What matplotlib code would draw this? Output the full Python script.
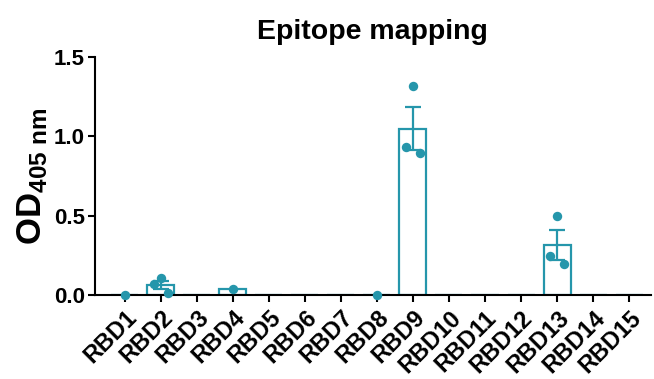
import numpy as np
import matplotlib
matplotlib.use("Agg")
import matplotlib.pyplot as plt

plt.rcParams['font.family'] = ['Liberation Sans', 'DejaVu Sans']
plt.rcParams['mathtext.fontset'] = 'custom'
plt.rcParams['mathtext.rm'] = 'Liberation Sans:bold'
plt.rcParams['mathtext.bf'] = 'Liberation Sans:bold'

# data: three replicates per RBD peptide (NaN = not shown)
categories = ['RBD1', 'RBD2', 'RBD3', 'RBD4', 'RBD5', 'RBD6', 'RBD7', 'RBD8',
              'RBD9', 'RBD10', 'RBD11', 'RBD12', 'RBD13', 'RBD14', 'RBD15']
rep1 = [np.nan, 0.07, np.nan, np.nan, np.nan, np.nan, np.nan, np.nan,
        0.933, np.nan, np.nan, np.nan, 0.246, np.nan, np.nan]
rep2 = [0.0, 0.107, np.nan, 0.035, np.nan, np.nan, np.nan, 0.0,
        1.317, np.nan, np.nan, np.nan, 0.498, np.nan, np.nan]
rep3 = [np.nan, 0.01, np.nan, np.nan, np.nan, np.nan, np.nan, np.nan,
        0.895, np.nan, np.nan, np.nan, 0.195, np.nan, np.nan]

color = '#2596ab'

reps = np.array([rep1, rep2, rep3])
n = np.sum(~np.isnan(reps), axis=0)
means = np.array([np.nanmean(reps[:, i]) if n[i] > 0 else 0 for i in range(len(categories))])
sem = np.array([np.nanstd(reps[:, i], ddof=1) / np.sqrt(n[i]) if n[i] > 1 else 0
                for i in range(len(categories))])

x = np.arange(len(categories))

fig = plt.figure(figsize=(6.54, 3.79), dpi=100)
ax = fig.add_axes([0.145, 0.222, 0.85, 0.627])

ax.bar(x, means, width=0.75, facecolor='white', edgecolor=color, linewidth=1.6, zorder=2)
has_err = sem > 0
ax.errorbar(x[has_err], means[has_err], yerr=sem[has_err], fmt='none', ecolor=color,
            elinewidth=1.6, capsize=6, capthick=1.6, zorder=3)
for off, r in zip([-0.2, 0.0, 0.2], [rep1, rep2, rep3]):
    ax.scatter(x + off, r, s=46, color=color, zorder=4, clip_on=False, linewidths=0)

ax.set_xlim(-0.83, 14.6)
ax.set_ylim(0, 1.5)
ax.set_yticks([0.0, 0.5, 1.0, 1.5])
ax.set_yticklabels(['0.0', '0.5', '1.0', '1.5'])
ax.set_xticks(x)
ax.set_xticklabels(categories, rotation=45, ha='right', rotation_mode='anchor')

for s in ['top', 'right']:
    ax.spines[s].set_visible(False)
for s in ['left', 'bottom']:
    ax.spines[s].set_linewidth(1.5)
ax.tick_params(axis='both', width=1.5, length=5)
ax.tick_params(axis='y', labelsize=16, pad=2)
ax.tick_params(axis='x', labelsize=17, pad=3)
for lbl in ax.get_xticklabels() + ax.get_yticklabels():
    lbl.set_fontweight('bold')

ax.set_ylabel(r'$\mathrm{OD}_{\mathrm{405\ nm}}$', fontsize=25, labelpad=4)
ax.set_title('Epitope mapping', fontsize=20.5, fontweight='bold', pad=13)

fig.savefig('out.png', dpi=100)
